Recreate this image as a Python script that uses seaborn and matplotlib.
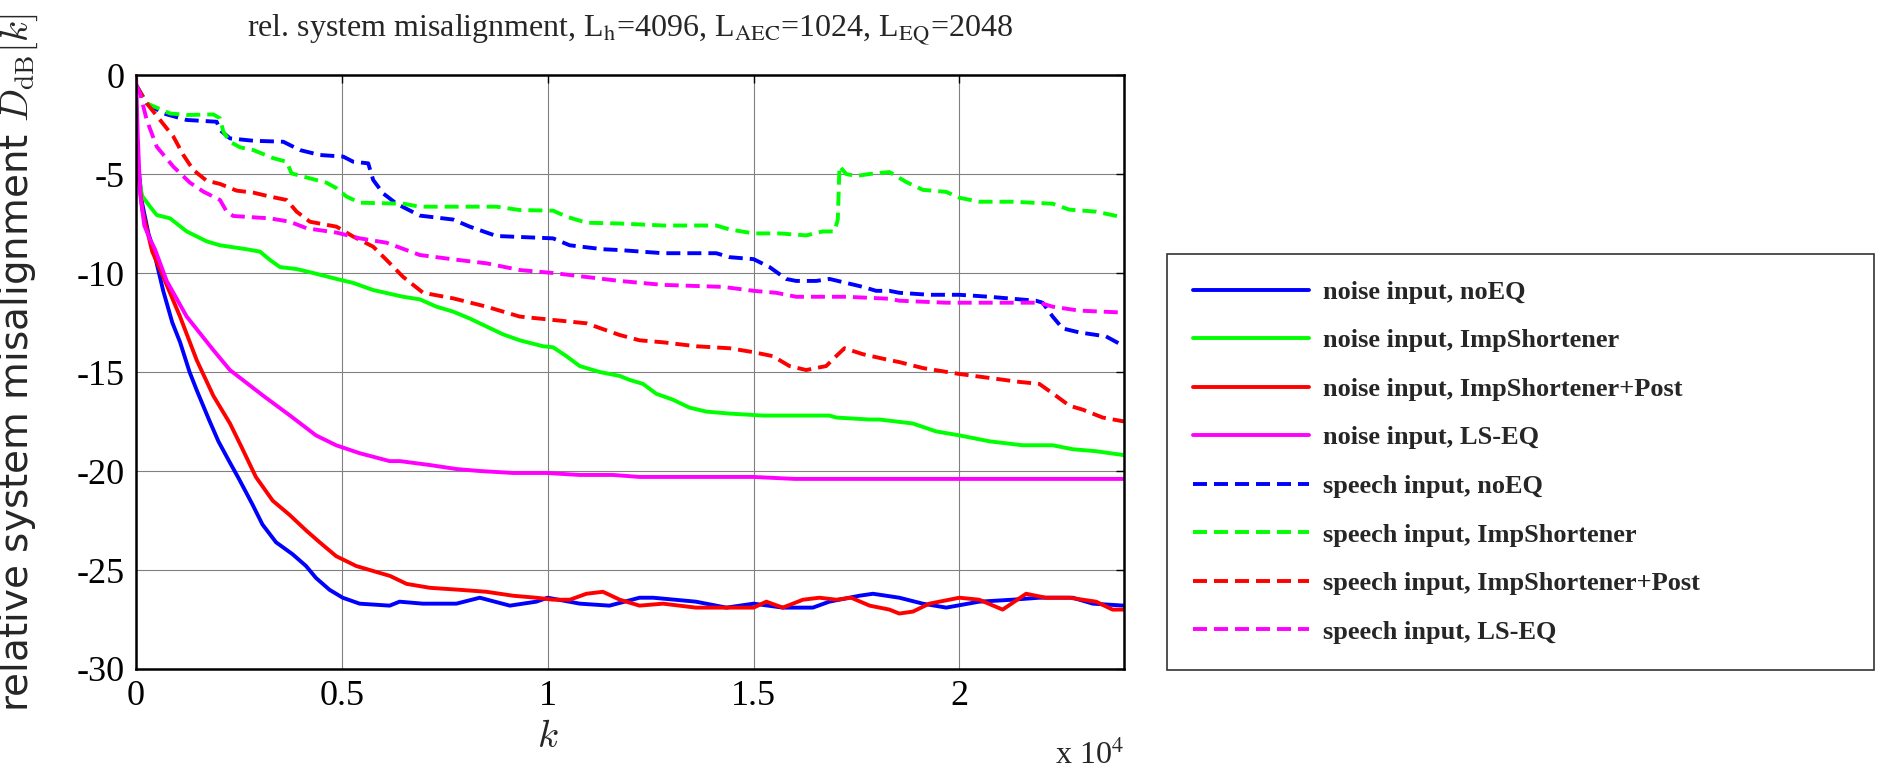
import numpy as np
import pandas as pd
import matplotlib
matplotlib.use("Agg")
import matplotlib.pyplot as plt
import seaborn as sns

# ---------------- data ----------------
k_noise_noeq = [0, 50, 150, 300, 420, 660, 880, 1070, 1300, 1470, 1770, 2000, 2260, 2500, 2830, 3070,
                3400, 3800, 4130, 4370, 4700, 5020, 5430, 6160, 6400, 6970, 7780, 8350, 9080, 9720,
                10000, 10780, 11500, 12230, 12560, 13600, 14340, 15000, 15710, 16440, 16840, 17570,
                17900, 18540, 19110, 19680, 20480, 21290, 21940, 22750, 23240, 24000]
d_noise_noeq = [-3.4, -4.5, -6.5, -8.0, -8.8, -10.9, -12.5, -13.5, -15.0, -15.9, -17.4, -18.5, -19.5,
                -20.4, -21.7, -22.7, -23.6, -24.2, -24.8, -25.4, -26.0, -26.4, -26.7, -26.8, -26.6,
                -26.7, -26.7, -26.4, -26.8, -26.6, -26.4, -26.7, -26.8, -26.4, -26.4, -26.6, -26.9,
                -26.7, -26.9, -26.9, -26.6, -26.3, -26.2, -26.4, -26.7, -26.9, -26.6, -26.5, -26.4,
                -26.4, -26.7, -26.8]

k_noise_imp = [0, 50, 146, 340, 502, 826, 1230, 1715, 2039, 2686, 3010, 3253, 3495, 3900, 4304, 4871,
               5275, 5760, 6489, 6893, 7297, 7702, 8107, 8511, 8916, 9320, 9886, 10129, 10454, 10777,
               11263, 11749, 11990, 12314, 12637, 13042, 13446, 13851, 14417, 15226, 16035, 16844,
               17006, 17815, 18058, 18867, 19433, 20000, 20728, 21537, 22265, 22750, 23317, 24000]
d_noise_imp = [-3.5, -5.0, -6.1, -6.65, -7.07, -7.24, -7.9, -8.4, -8.6, -8.8, -8.92, -9.34, -9.7, -9.8,
               -10.0, -10.3, -10.5, -10.86, -11.2, -11.33, -11.7, -11.95, -12.3, -12.7, -13.1, -13.4,
               -13.7, -13.75, -14.2, -14.7, -15.0, -15.2, -15.4, -15.6, -16.1, -16.4, -16.8, -17.0,
               -17.1, -17.2, -17.2, -17.2, -17.3, -17.4, -17.4, -17.6, -18.0, -18.2, -18.5, -18.7,
               -18.7, -18.9, -19.0, -19.2]

k_noise_post = [0, 50, 150, 390, 663, 1068, 1473, 1877, 2282, 2565, 2910, 3320, 3720, 4130, 4460, 4860,
                5350, 5840, 6170, 6570, 7140, 7860, 8510, 9160, 9720, 10130, 10540, 10940, 11340,
                11750, 12230, 12800, 13600, 14420, 15000, 15310, 15710, 16200, 16600, 17010, 17370,
                17820, 18300, 18540, 18870, 19270, 20000, 20480, 21050, 21620, 22100, 22670, 23320,
                23720, 24000]
d_noise_post = [-3.4, -4.8, -6.8, -8.9, -10.2, -12.2, -14.4, -16.2, -17.6, -18.8, -20.3, -21.5, -22.2,
                -23.0, -23.6, -24.3, -24.8, -25.1, -25.3, -25.7, -25.9, -26.0, -26.1, -26.3, -26.4,
                -26.5, -26.5, -26.2, -26.1, -26.5, -26.8, -26.7, -26.9, -26.9, -26.9, -26.6, -26.9,
                -26.5, -26.4, -26.5, -26.4, -26.8, -27.0, -27.2, -27.1, -26.7, -26.4, -26.5, -27.0,
                -26.2, -26.4, -26.4, -26.6, -27.0, -27.0]

k_noise_ls = [0, 40, 100, 200, 340, 460, 655, 745, 1230, 1880, 2280, 3090, 3740, 4370, 4860, 5430,
              6160, 6410, 7140, 7780, 8350, 9160, 9970, 10780, 11590, 12230, 14000, 15000, 16000,
              17000, 18000, 19000, 20000, 21000, 22000, 23000, 24000]
d_noise_ls = [0.0, -3.0, -6.0, -7.6, -8.3, -8.8, -9.9, -10.4, -12.2, -13.9, -14.9, -16.2, -17.2, -18.2,
              -18.7, -19.1, -19.5, -19.5, -19.7, -19.9, -20.0, -20.1, -20.1, -20.2, -20.2, -20.3,
              -20.3, -20.3, -20.4, -20.4, -20.4, -20.4, -20.4, -20.4, -20.4, -20.4, -20.4]

k_speech_noeq = [0, 259, 664, 1230, 1958, 2039, 2282, 2848, 3576, 3981, 4466, 5032, 5275, 5639, 5760,
                 6003, 6327, 6893, 7702, 8107, 8754, 10129, 10534, 11343, 11747, 12799, 14093, 14417,
                 15000, 15388, 15793, 16035, 16521, 16844, 17249, 17653, 17977, 18300, 18543, 19272,
                 20000, 20728, 21860, 22022, 22265, 22508, 22912, 23560, 24000]
d_speech_noeq = [-0.5, -1.43, -1.94, -2.27, -2.36, -2.78, -3.2, -3.32, -3.37, -3.79, -4.04, -4.12,
                 -4.38, -4.46, -5.3, -5.98, -6.5, -7.1, -7.3, -7.66, -8.13, -8.25, -8.6, -8.8, -8.84,
                 -9.0, -9.0, -9.2, -9.3, -9.7, -10.3, -10.4, -10.4, -10.3, -10.5, -10.7, -10.9,
                 -10.9, -11.0, -11.1, -11.1, -11.2, -11.4, -11.5, -12.2, -12.8, -13.0, -13.2, -13.7]

k_speech_imp = [0, 259, 826, 1230, 1877, 2039, 2120, 2282, 2524, 2848, 3333, 3657, 3778, 4062, 4628,
                4871, 5113, 5437, 6489, 6893, 8754, 9320, 10129, 10453, 10938, 11747, 12799, 14093,
                14417, 15000, 15631, 16278, 16682, 16965, 17046, 17087, 17249, 17491, 17815, 18300,
                18705, 19110, 19676, 20000, 20485, 21294, 22265, 22670, 23317, 24000]
d_speech_imp = [-0.5, -1.43, -1.94, -2.02, -1.99, -2.19, -2.86, -3.37, -3.65, -3.79, -4.2, -4.38,
                -4.97, -5.13, -5.44, -5.72, -6.14, -6.45, -6.5, -6.65, -6.65, -6.82, -6.85, -7.15,
                -7.46, -7.5, -7.6, -7.6, -7.8, -8.0, -8.0, -8.1, -7.9, -7.9, -7.3, -4.6, -5.0,
                -5.1, -5.0, -4.9, -5.4, -5.8, -5.9, -6.2, -6.4, -6.4, -6.5, -6.8, -6.9, -7.2]

k_speech_post = [0, 259, 583, 906, 1149, 1392, 1715, 2039, 2444, 2848, 3253, 3657, 3900, 4223, 4871,
                 5275, 5760, 6084, 6489, 6974, 7702, 8511, 9320, 10129, 10938, 11747, 12233, 12799,
                 13608, 14417, 15000, 15469, 15873, 16278, 16763, 17006, 17208, 17653, 18300, 18543,
                 19110, 20000, 20728, 21456, 21941, 22346, 22670, 22993, 23479, 24000]
d_speech_post = [-0.5, -1.43, -2.27, -3.11, -4.04, -4.8, -5.34, -5.5, -5.84, -5.94, -6.14, -6.31, -6.9,
                 -7.41, -7.66, -8.16, -8.67, -9.34, -10.2, -11.0, -11.28, -11.7, -12.2, -12.37,
                 -12.54, -13.13, -13.4, -13.5, -13.7, -13.8, -14.0, -14.2, -14.7, -14.9, -14.7,
                 -14.2, -13.8, -14.1, -14.4, -14.5, -14.8, -15.1, -15.3, -15.5, -15.6, -16.2, -16.7,
                 -16.9, -17.3, -17.5]

k_speech_ls = [0, 97, 259, 502, 906, 1311, 1635, 2039, 2201, 2363, 3253, 3738, 4142, 4871, 5437, 6084,
               6893, 7702, 8511, 9320, 10129, 10938, 11747, 12799, 14255, 15000, 15550, 16035, 17249,
               18300, 18543, 19676, 21941, 22265, 22912, 24000]
d_speech_ls = [-0.5, -0.93, -2.27, -3.62, -4.63, -5.44, -5.89, -6.31, -6.9, -7.12, -7.24, -7.41, -7.74,
               -7.96, -8.25, -8.47, -9.09, -9.31, -9.51, -9.85, -10.0, -10.2, -10.4, -10.6, -10.7,
               -10.9, -11.0, -11.2, -11.2, -11.3, -11.4, -11.5, -11.5, -11.7, -11.9, -12.0]

labels = ["noise input, noEQ", "noise input, ImpShortener", "noise input, ImpShortener+Post",
          "noise input, LS-EQ", "speech input, noEQ", "speech input, ImpShortener",
          "speech input, ImpShortener+Post", "speech input, LS-EQ"]
series_k = [k_noise_noeq, k_noise_imp, k_noise_post, k_noise_ls,
            k_speech_noeq, k_speech_imp, k_speech_post, k_speech_ls]
series_d = [d_noise_noeq, d_noise_imp, d_noise_post, d_noise_ls,
            d_speech_noeq, d_speech_imp, d_speech_post, d_speech_ls]
colors = ["#0000ff", "#00ff00", "#ff0000", "#ff00ff"] * 2
styles = ["-"] * 4 + ["--"] * 4

x_ticks = [0, 5000, 10000, 15000, 20000]
x_ticklabels = ["0", "0.5", "1", "1.5", "2"]
y_ticks = [0, -5, -10, -15, -20, -25, -30]
y_ticklabels = ["0", "-5", "-10", "-15", "-20", "-25", "-30"]

# ---------------- plot ----------------
sns.set_style("white")
plt.rcParams["font.family"] = ["Liberation Serif", "DejaVu Serif"]
plt.rcParams["mathtext.fontset"] = "stix"

fig = plt.figure(figsize=(18.87, 7.71), dpi=100)
ax = fig.add_axes([0.0721, 0.1323, 0.5236, 0.7704])

DASH = (3.6, 1.8)
for kk, dd, lab, c, ls in zip(series_k, series_d, labels, colors, styles):
    df = pd.DataFrame({"k": kk, "D": dd})
    sns.lineplot(data=df, x="k", y="D", ax=ax, color=c, linewidth=2.8, label=lab,
                 estimator=None, sort=False)
    line = ax.get_lines()[-1]
    if ls == "--":
        line.set_dashes(DASH)

ax.set_xlim(0, 24000)
ax.set_ylim(-30, 0)
ax.set_xticks(x_ticks)
ax.set_xticklabels(x_ticklabels)
ax.set_yticks(y_ticks)
ax.set_yticklabels(y_ticklabels)
ax.grid(True, color="#808080", linewidth=0.8)
ax.set_axisbelow(True)
for sp in ax.spines.values():
    sp.set_visible(True)
    sp.set_color("black")
    sp.set_linewidth(1.8)
ax.tick_params(direction="in", length=6, width=1, top=True, right=True,
               labelsize=26, colors="black", pad=8)

ax.set_title(r"rel. system misalignment, L$_{\mathrm{h}}$=4096, L$_{\mathrm{AEC}}$=1024, L$_{\mathrm{EQ}}$=2048",
             fontsize=23, pad=27)
ax.set_xlabel(r"$k$", fontsize=28, math_fontfamily="cm")
ax.xaxis.set_label_coords(0.417, -0.085)
ax.set_ylabel(r"relative system misalignment $D_{\mathrm{dB}}[k]$", fontsize=28,
              family=["DejaVu Sans"], math_fontfamily="cm")
ax.yaxis.set_label_coords(-0.097, 0.515)

fig.text(0.5957, 0.0, r"x 10$^{4}$", ha="right", va="bottom", fontsize=23)

handles, labs = ax.get_legend_handles_labels()
if ax.get_legend():
    ax.get_legend().remove()
for h, ls in zip(handles, styles):
    if ls == "--":
        h.set_dashes(DASH)
leg = fig.legend(handles, labs, loc="lower left",
                 bbox_to_anchor=(0.6184, 0.131, 0.3746, 0.541), mode="expand",
                 borderaxespad=0, frameon=True, fancybox=False,
                 prop={"family": "Liberation Serif", "weight": "bold", "size": 19},
                 handlelength=4.4, handletextpad=0.5, labelspacing=0.95, borderpad=1.0)
leg.get_frame().set_edgecolor("black")
leg.get_frame().set_linewidth(1.2)

fig.savefig("out.png", dpi=100)
